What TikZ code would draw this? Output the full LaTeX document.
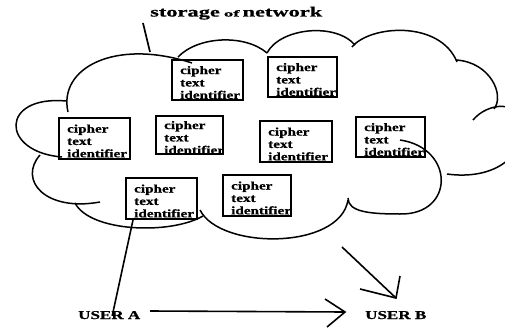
\documentclass[tikz,border=0pt]{standalone}
\usepackage{fontspec}
\usetikzlibrary{fit}
\setmainfont{Liberation Serif}
\newfontfamily\boxfont[FakeStretch=1.32, FakeBold=0.8]{Liberation Serif}
\newfontfamily\userfont[FakeStretch=1.42, FakeBold=0.8]{Liberation Serif}
\newfontfamily\titlefont[FakeStretch=1.6, FakeBold=0.8]{Liberation Serif}
\newfontfamily\smallfont[FakeStretch=2.1, FakeBold=0.8]{Liberation Serif}

\tikzset{
  cloudline/.style={line width=1.5pt},
  cbox/.style={draw, line width=2pt, inner sep=0pt},
  ctext/.style={font=\boxfont\bfseries\fontsize{11.5}{12.4}\selectfont, align=left, inner sep=0pt},
  user/.style={font=\userfont\bfseries\fontsize{12}{12}\selectfont, inner sep=0pt},
  link/.style={line width=1.6pt},
}

% a stored record: framed box with its three-line label
\newcommand{\cipherbox}[5]{%
  \node[cbox, fit={(#2,#3) (#4,#5)}] (#1) {};
  \node[ctext, anchor=west] (#1t) at ([xshift=9pt,yshift=-2.5pt]#1.west) {cipher\\text\\identifier};
}

\begin{document}
\begin{tikzpicture}[x=1pt,y=-1pt]
\path[use as bounding box] (0,0) rectangle (505,329);

% title and its pointer
\node[anchor=base west, inner sep=0pt] (title) at (150,16.5)
  {\titlefont\bfseries\fontsize{14}{14}\selectfont storage\hspace{4pt}{\smallfont\fontsize{9}{9}\selectfont of}\hspace{3pt}network};
\coordinate (ptrtop) at (143,23);
\coordinate (ptrbot) at (150,52);
\draw[line width=1.7pt] (ptrtop) -- (ptrbot);

% the cloud, drawn as separate hand-drawn arcs
\begin{scope}
\clip (0,0) rectangle (505,329);
\draw[cloudline] (68,112) .. controls (58,68) and (115,38) .. (192,63);
\draw[cloudline] (178,57) .. controls (198,36) and (245,34) .. (267,53);
\draw[cloudline] (267,53) .. controls (280,28) and (335,22) .. (355,45);
\draw[cloudline] (352,47) .. controls (370,25) and (440,20) .. (457,62);
\draw[cloudline] (456,60) .. controls (490,62) and (505,95) .. (494,109);
\draw[cloudline] (473,120) .. controls (488,102) and (520,100) .. (522,125)
                 .. controls (524,160) and (490,180) .. (447,174);
\draw[cloudline] (400,140) .. controls (455,148) and (455,215) .. (400,214)
                 .. controls (370,214) and (348,212) .. (348,198);
\draw[cloudline] (200,210) .. controls (220,250) and (340,250) .. (348,200);
\draw[cloudline] (75,203) .. controls (90,232) and (170,235) .. (203,216);
\draw[cloudline] (40,155) .. controls (18,180) and (45,212) .. (100,202);
\draw[cloudline] (62,157) .. controls (0,152) and (0,95) .. (66,101);
\end{scope}

% stored records
\cipherbox{b1}{172}{60}{243}{100}
\cipherbox{b2}{268}{57}{337}{97}
\cipherbox{b3}{59}{118}{130}{159}
\cipherbox{b4}{156}{116}{223}{154}
\cipherbox{b5}{260}{121}{332}{162}
\cipherbox{b6}{356}{117}{425}{157}
\cipherbox{b7}{126}{178}{197}{219}
\cipherbox{b8}{223}{175}{291}{216}

% users
\node[user, anchor=base west] (ua) at (78,319) {USER A};
\node[user, anchor=base west] (ub) at (365,319) {USER B};

% user A uploads into the cloud
\coordinate (upA) at (133,220);
\draw[link] (upA) -- ([xshift=3pt,yshift=-5pt]ua.north);

% user A sends to user B
\coordinate (abStart) at (150,311);
\coordinate (abTip) at (345,312);
\draw[link] (abStart) -- (abTip);
\draw[link] (325,299) -- (abTip) -- (327,327);

% cloud delivers to user B
\coordinate (cbStart) at (342,247);
\coordinate (cbTip) at (396,298);
\draw[link] (cbStart) -- (cbTip);
\draw[link] (400,276) -- (cbTip) -- (360,289);
\end{tikzpicture}
\end{document}
